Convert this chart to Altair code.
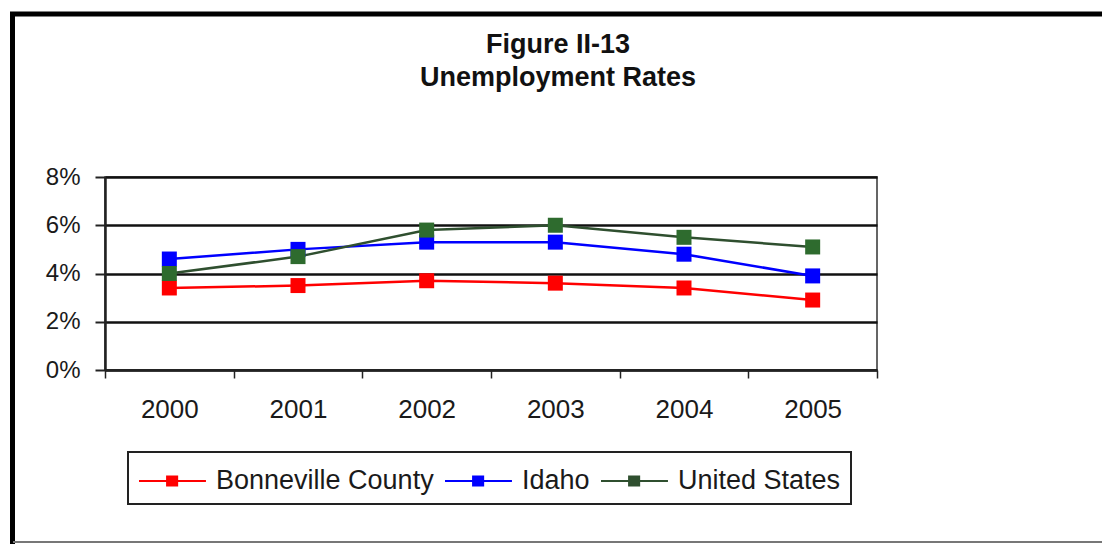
import altair as alt
import pandas as pd

# ---- data ----
years = ["2000", "2001", "2002", "2003", "2004", "2005"]
series = ["Bonneville County", "Idaho", "United States"]
bonneville = [3.4, 3.5, 3.7, 3.6, 3.4, 2.9]
idaho = [4.6, 5.0, 5.3, 5.3, 4.8, 3.9]
united_states = [4.0, 4.7, 5.8, 6.0, 5.5, 5.1]
y_ticks = [0, 2, 4, 6, 8]
title_lines = ["Figure II-13", "Unemployment Rates"]

line_colors = ["#ff0000", "#0000ff", "#2f4f2f"]
marker_colors = ["#ff0000", "#0000ff", "#2e6b2e"]

rows = []
for s, vals in zip(series, [bonneville, idaho, united_states]):
    for yr, v in zip(years, vals):
        rows.append({"year": yr, "series": s, "rate": v})
df = pd.DataFrame(rows)
one = pd.DataFrame({"k": [0]})

FONT = "Liberation Sans"
W, H = 772, 193
PAD = {"left": 105, "top": 177, "right": 1102 - 105 - W, "bottom": 544 - 177 - H}

x_enc = alt.X(
    "year:O", sort=years, bandPosition=0.5,
    scale=alt.Scale(type="band", paddingInner=0, paddingOuter=0),
    axis=alt.Axis(title=None, labelAngle=0, tickBand="extent", ticks=True, tickSize=8,
                  tickColor="#222", tickWidth=1.5, domainColor="#222", domainWidth=2,
                  labelFontSize=26, labelColor="#1a1a1a", labelPadding=18, grid=False,
                  labelFont=FONT),
)
y_enc = alt.Y(
    "rate:Q", scale=alt.Scale(domain=[0, 8], nice=False),
    axis=alt.Axis(title=None, values=y_ticks, labelExpr="datum.value + '%'", grid=True,
                  gridColor="#111", gridWidth=2.5, tickSize=10, tickColor="#222",
                  tickWidth=2, domainColor="#222", domainWidth=2.5, labelFontSize=24,
                  labelPadding=15, labelColor="#1a1a1a", labelFont=FONT),
)

# legend symbol: a line with a small solid square drawn by dense strokes
sq = "".join(f"M{0.56 + 0.08 * i:.2f},-0.3L{0.56 + 0.08 * i:.2f},0.3" for i in range(8))
sym_path = "M-1,0L2.72,0" + sq

lines = alt.Chart(df).mark_line(strokeWidth=2.5).encode(
    x=x_enc, y=y_enc,
    stroke=alt.Stroke(
        "series:N", sort=series,
        scale=alt.Scale(domain=series, range=line_colors),
        legend=alt.Legend(
            title=None, orient="none", legendX=23, legendY=275, direction="horizontal",
            symbolType=sym_path, symbolSize=1296, symbolStrokeWidth=2,
            labelOffset=40, labelFontSize=27, labelFont=FONT, labelColor="#1a1a1a",
            labelLimit=500, columnPadding=7, padding=10, strokeColor="#222",
        ),
    ),
)
points = alt.Chart(df).mark_point(shape="square", filled=True, size=225, opacity=1).encode(
    x=x_enc, y=y_enc,
    fill=alt.Fill("series:N", sort=series,
                  scale=alt.Scale(domain=series, range=marker_colors), legend=None),
)

# decorative outer frame
frame_left = alt.Chart(one).mark_rule(color="#000", strokeWidth=5).encode(
    x=alt.value(-92.5), y=alt.value(-165), y2=alt.value(544 - 177 + 5))
frame_top = alt.Chart(one).mark_rule(color="#000", strokeWidth=5).encode(
    x=alt.value(-95), x2=alt.value(1102 - 105 + 5), y=alt.value(14 - 177))
frame_bottom = alt.Chart(one).mark_rule(color="#777", strokeWidth=2).encode(
    x=alt.value(-92), x2=alt.value(1102 - 105 + 5), y=alt.value(542 - 177))

chart = alt.layer(lines, points, frame_left, frame_top, frame_bottom).properties(
    width=W, height=H,
    title=alt.Title(title_lines, fontSize=27, fontWeight="bold", font=FONT, color="#111",
                    lineHeight=33, anchor="middle", frame="group", dx=67, offset=-82),
    autosize=alt.AutoSizeParams(type="none"),
    padding=PAD,
    background="white",
).configure_view(stroke="#333", strokeWidth=1.5).configure_legend(strokeWidth=2)

chart.save("out.html", embed_options={"renderer": "svg", "actions": False})
